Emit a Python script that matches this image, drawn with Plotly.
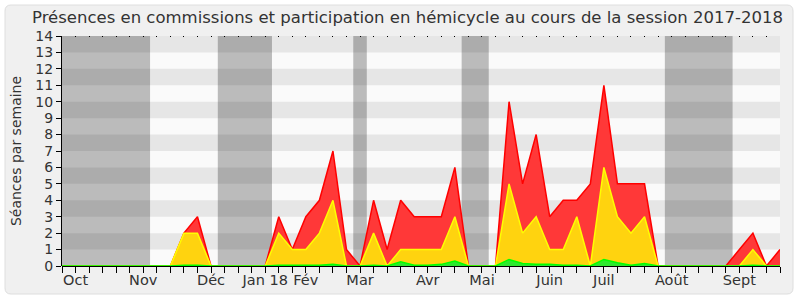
import plotly.graph_objects as go

# Week index 0..53 (weekly points, session 2017-2018)
weeks = list(range(54))

# Red: total presences (commission + hemicycle)
red_values = [0, 0, 0, 0, 0, 0, 0, 0, 0, 2, 3, 0, 0, 0, 0, 0,
              3, 1, 3, 4, 7, 1, 0, 4, 1, 4, 3, 3, 3, 6, 0, 0,
              0, 10, 5, 8, 3, 4, 4, 5, 11, 5, 5, 5, 0, 0, 0, 0,
              0, 0, 1, 2, 0, 1]
# Yellow
yellow_values = [0, 0, 0, 0, 0, 0, 0, 0, 0, 2, 2, 0, 0, 0, 0, 0,
                 2, 1, 1, 2, 4, 0, 0, 2, 0, 1, 1, 1, 1, 3, 0, 0,
                 0, 5, 2, 3, 1, 1, 3, 0, 6, 3, 2, 3, 0, 0, 0, 0,
                 0, 0, 0, 1, 0, 0]
# Green
green_values = [0, 0, 0, 0, 0, 0, 0, 0, 0, 0.05, 0.05, 0, 0, 0, 0, 0,
                0.05, 0.05, 0.05, 0.05, 0.1, 0, 0, 0.05, 0, 0.25, 0.05, 0.05, 0.1, 0.3, 0, 0,
                0, 0.4, 0.15, 0.1, 0.1, 0.05, 0.05, 0, 0.4, 0.2, 0.05, 0.15, 0, 0, 0, 0,
                0, 0, 0, 0.05, 0, 0]

# Month labels at week indices
month_weeks = [1, 6, 11, 15, 18, 22, 27, 31, 36, 40, 45, 50]
month_labels = ["Oct", "Nov", "Déc", "Jan 18", "Fév", "Mar", "Avr", "Mai", "Juin", "Juil", "Août", "Sept"]

# Vacation periods (week index ranges)
vacations = [(0, 6.5), (11.5, 15.5), (21.5, 22.5), (29.5, 31.5), (44.5, 49.5)]

YMAX = 14
XMAX = 53

fig = go.Figure()

fig.add_trace(go.Scatter(x=weeks, y=red_values, mode="lines", fill="tozeroy",
                         line=dict(color="#ff0000", width=1.5), fillcolor="#ff3838",
                         hoverinfo="skip", showlegend=False))
fig.add_trace(go.Scatter(x=weeks, y=yellow_values, mode="lines", fill="tozeroy",
                         line=dict(color="#ffff00", width=1.5), fillcolor="#ffd30f",
                         hoverinfo="skip", showlegend=False))
fig.add_trace(go.Scatter(x=weeks, y=green_values, mode="lines", fill="tozeroy",
                         line=dict(color="#00ff00", width=1.5), fillcolor="#2ee82e",
                         hoverinfo="skip", showlegend=False))
# dummy trace for top axis (dotted ticks)
fig.add_trace(go.Scatter(x=[0, XMAX], y=[None, None], xaxis="x2", mode="lines",
                         hoverinfo="skip", showlegend=False))

shapes = []
# panel background (rounded rectangle), in paper coords
L, R, T, B = 62, 780, 36, 266
def px(x):
    return (x - L) / (R - L)
def py(y):
    return (B - y) / (B - T)
x0, x1, y0, y1, r = 5, 793, 5, 294, 6
path = (f"M {px(x0 + r)} {py(y0)} L {px(x1 - r)} {py(y0)} "
        f"Q {px(x1)} {py(y0)} {px(x1)} {py(y0 + r)} "
        f"L {px(x1)} {py(y1 - r)} Q {px(x1)} {py(y1)} {px(x1 - r)} {py(y1)} "
        f"L {px(x0 + r)} {py(y1)} Q {px(x0)} {py(y1)} {px(x0)} {py(y1 - r)} "
        f"L {px(x0)} {py(y0 + r)} Q {px(x0)} {py(y0)} {px(x0 + r)} {py(y0)} Z")
shapes.append(dict(type="path", xref="paper", yref="paper", path=path,
                   fillcolor="#f0f0f0", line=dict(color="#dedede", width=1), layer="below"))
# stripes
shapes.append(dict(type="rect", xref="x", yref="y", x0=0, x1=XMAX, y0=0, y1=YMAX,
                   fillcolor="#fafafa", line=dict(width=0), layer="below"))
for k in range(1, YMAX, 2):
    shapes.append(dict(type="rect", xref="x", yref="y", x0=0, x1=XMAX, y0=k, y1=k + 1,
                       fillcolor="#e6e6e6", line=dict(width=0), layer="below"))
for a, b in vacations:
    shapes.append(dict(type="rect", xref="x", yref="y", x0=a, x1=b, y0=0, y1=YMAX,
                       fillcolor="rgba(0,0,0,0.25)", line=dict(width=0), layer="below"))

ticktext = ["" for _ in weeks]
for w, lab in zip(month_weeks, month_labels):
    ticktext[w] = lab

font_family = "DejaVu Sans"
fig.update_layout(
    width=800, height=300,
    margin=dict(l=L, r=800 - R, t=T, b=300 - B, autoexpand=False),
    paper_bgcolor="white",
    plot_bgcolor="rgba(0,0,0,0)",
    font=dict(family=font_family, color="#333333"),
    title=dict(text="Présences en commissions et participation en hémicycle au cours de la session 2017-2018",
               x=407.5 / 800, xref="container", xanchor="center", y=1 - 17 / 300, yanchor="middle",
               font=dict(size=16.5, color="#333333")),
    shapes=shapes,
    xaxis=dict(range=[0, XMAX], tickmode="array", tickvals=weeks, ticktext=ticktext,
               ticks="outside", ticklen=6, tickcolor="black", tickwidth=1,
               ticklabelstandoff=-5,
               showline=False, showgrid=False, zeroline=False, automargin=False,
               tickfont=dict(size=14.5, color="#333333"), fixedrange=True),
    xaxis2=dict(range=[0, XMAX], overlaying="x", side="top", tickmode="array",
                tickvals=weeks, showticklabels=False, ticks="inside", ticklen=1,
                tickcolor="black", tickwidth=1, showline=False, showgrid=False,
                zeroline=False, automargin=False),
    yaxis=dict(range=[0, YMAX], tickmode="linear", tick0=0, dtick=1,
               ticks="outside", ticklen=5, tickcolor="black", tickwidth=1,
               showline=True, linecolor="black", linewidth=1, automargin=False,
               showgrid=False, zeroline=True, zerolinecolor="black", zerolinewidth=1,
               tickfont=dict(size=14, color="#333333"),
               title=dict(text="Séances par semaine", font=dict(size=14, color="#333333"), standoff=10)),
)

fig.write_html("out.html")
